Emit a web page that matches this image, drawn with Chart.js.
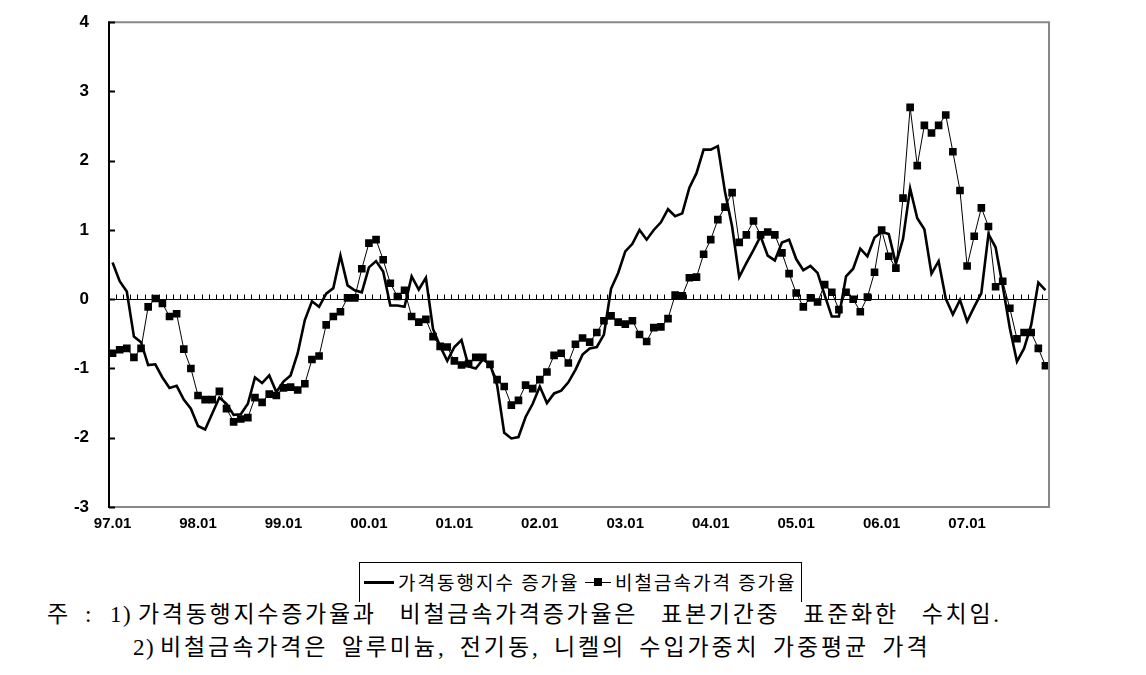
<!DOCTYPE html>
<html>
<head>
<meta charset="utf-8">
<script src="https://cdn.jsdelivr.net/npm/chart.js@4.4.1/dist/chart.umd.min.js"></script>
<style>
  html, body { margin: 0; padding: 0; background: #fff; }
  #wrap { position: relative; width: 1146px; height: 675px; overflow: hidden; }
  #box { position: absolute; left: 0; top: 0; width: 1146px; height: 540px; }
  #legend { position: absolute; left: 359px; top: 562px; width: 443px; height: 40px;
            border: 1px solid #000; border-bottom: none; box-sizing: border-box; }
  .lg { position: absolute; font-family: "Noto Sans CJK KR", sans-serif; font-size: 19px;
        letter-spacing: 2px; line-height: 22px; top: 8px; color: #000; white-space: nowrap; }
  .note { position: absolute; font-family: "Liberation Serif", "Noto Sans CJK KR", serif;
          font-size: 23px; line-height: 28px; letter-spacing: 1.5px; color: #000; white-space: nowrap; }
</style>
</head>
<body>
<div id="wrap">
  <div id="box"><canvas id="chart"></canvas></div>
  <div id="legend">
    <span style="position:absolute;left:4px;top:18px;width:30px;height:3px;background:#000"></span>
    <span class="lg" style="left:38px">가격동행지수 증가율</span>
    <span style="position:absolute;left:225px;top:19px;width:26px;height:1px;background:#000"></span>
    <span style="position:absolute;left:234px;top:15px;width:8px;height:8px;background:#000"></span>
    <span class="lg" style="left:255px">비철금속가격 증가율</span>
  </div>
  <div class="note" style="left:47px;top:601px">주</div>
  <div class="note" style="left:85px;top:601px">:</div>
  <div class="note" style="left:110px;top:601px">1)</div>
  <div class="note" style="left:138px;top:601px;letter-spacing:2.7px;word-spacing:14.5px">가격동행지수증가율과 비철금속가격증가율은 표본기간중 표준화한 수치임.</div>
  <div class="note" style="left:133px;top:634px">2)</div>
  <div class="note" style="left:160px;top:634px;letter-spacing:2.9px;word-spacing:4.6px">비철금속가격은 알루미늄, 전기동, 니켈의 수입가중치 가중평균 가격</div>
</div>
<script>
// monthly categories 97.01 ~ 07.12
const years = ['97', '98', '99', '00', '01', '02', '03', '04', '05', '06', '07']
const months = ['01', '02', '03', '04', '05', '06', '07', '08', '09', '10', '11', '12']
const categories = years.flatMap(y => months.map(m => y + '.' + m))
const tickLabels = ['97.01', '98.01', '99.01', '00.01', '01.01', '02.01', '03.01', '04.01', '05.01', '06.01', '07.01']
const yTicks = [4, 3, 2, 1, 0, -1, -2, -3]

// 가격동행지수 증가율 (solid line)
const coincidentGrowth = [
    0.53, 0.26, 0.11, -0.54, -0.62, -0.95, -0.94, -1.13, -1.28, -1.25, -1.45, -1.58,
    -1.83, -1.88, -1.65, -1.42, -1.51, -1.67, -1.66, -1.51, -1.13, -1.21, -1.10, -1.34,
    -1.19, -1.10, -0.78, -0.30, -0.03, -0.11, 0.08, 0.16, 0.63, 0.20, 0.13, 0.10,
    0.46, 0.55, 0.40, -0.09, -0.09, -0.11, 0.33, 0.14, 0.31, -0.43, -0.68, -0.89,
    -0.69, -0.59, -0.97, -1.00, -0.87, -0.94, -1.24, -1.93, -2.01, -1.99, -1.70, -1.51,
    -1.26, -1.50, -1.36, -1.32, -1.20, -1.02, -0.80, -0.71, -0.69, -0.51, 0.15, 0.38,
    0.69, 0.80, 1.00, 0.86, 1.00, 1.11, 1.30, 1.20, 1.24, 1.61, 1.82, 2.16,
    2.16, 2.21, 1.55, 1.05, 0.32, 0.52, 0.71, 0.91, 0.63, 0.56, 0.82, 0.86,
    0.58, 0.42, 0.48, 0.38, 0.06, -0.25, -0.25, 0.33, 0.44, 0.73, 0.62, 0.89,
    0.97, 0.94, 0.51, 0.87, 1.60, 1.17, 1.01, 0.37, 0.55, 0.01, -0.22, -0.01,
    -0.32, -0.11, 0.09, 0.94, 0.75, 0.19, -0.42, -0.90, -0.71, -0.37, 0.24, 0.13
]

// 비철금속가격 증가율 (line with squares)
const metalGrowth = [
    -0.78, -0.73, -0.71, -0.84, -0.71, -0.11, 0.01, -0.06, -0.25, -0.21, -0.72, -1.00,
    -1.39, -1.45, -1.45, -1.33, -1.58, -1.77, -1.73, -1.71, -1.42, -1.49, -1.37, -1.39,
    -1.28, -1.27, -1.31, -1.22, -0.87, -0.82, -0.37, -0.25, -0.18, 0.02, 0.02, 0.44,
    0.81, 0.86, 0.57, 0.23, 0.04, 0.13, -0.25, -0.33, -0.29, -0.54, -0.68, -0.69,
    -0.89, -0.95, -0.93, -0.84, -0.84, -0.94, -1.16, -1.26, -1.53, -1.46, -1.24, -1.29,
    -1.16, -1.05, -0.81, -0.78, -0.92, -0.65, -0.56, -0.62, -0.48, -0.31, -0.24, -0.33,
    -0.36, -0.31, -0.51, -0.61, -0.41, -0.40, -0.28, 0.06, 0.05, 0.31, 0.32, 0.65,
    0.86, 1.15, 1.33, 1.54, 0.82, 0.93, 1.13, 0.93, 0.97, 0.93, 0.67, 0.37,
    0.09, -0.11, 0.02, -0.04, 0.21, 0.10, -0.15, 0.10, 0.00, -0.18, 0.03, 0.39,
    1.00, 0.62, 0.45, 1.46, 2.77, 1.93, 2.51, 2.40, 2.51, 2.66, 2.13, 1.57,
    0.48, 0.91, 1.32, 1.05, 0.18, 0.26, -0.13, -0.57, -0.48, -0.48, -0.71, -0.96
]

// frame, inside ticks on the y axis and the comb-like zero line
const axisMarks = {
    id: 'axisMarks',
    beforeDatasetsDraw(chart) {
        const { ctx, chartArea: a, scales: { x, y } } = chart
        const y0 = Math.round(y.getPixelForValue(0)) + 0.5
        ctx.save()
        ctx.strokeStyle = '#000'
        ctx.lineWidth = 1
        ctx.beginPath()
        ctx.moveTo(a.left, y0)
        ctx.lineTo(a.right, y0)
        for (let k = 1; k < categories.length; k++) {
            const xb = Math.round((x.getPixelForValue(k - 1) + x.getPixelForValue(k)) / 2) + 0.5
            ctx.moveTo(xb, y0)
            ctx.lineTo(xb, y0 - 5)
        }
        ctx.stroke()
        ctx.restore()
    },
    afterDraw(chart) {
        const { ctx, chartArea: a, scales: { y } } = chart
        ctx.save()
        ctx.strokeStyle = '#888'
        ctx.lineWidth = 2
        ctx.beginPath()
        ctx.moveTo(a.left, a.top)
        ctx.lineTo(a.right, a.top)
        ctx.lineTo(a.right, a.bottom)
        ctx.lineTo(a.left, a.bottom)
        ctx.stroke()
        ctx.strokeStyle = '#000'
        ctx.beginPath()
        ctx.moveTo(a.left, a.top - 1)
        ctx.lineTo(a.left, a.bottom + 1)
        yTicks.forEach(v => {
            const yy = Math.round(y.getPixelForValue(v)) + 0.5
            ctx.moveTo(a.left, yy)
            ctx.lineTo(a.left + 6, yy)
        })
        ctx.stroke()
        ctx.restore()
    }
}

new Chart(document.getElementById('chart'), {
    type: 'line',
    data: {
        labels: categories,
        datasets: [{
            label: '가격동행지수 증가율',
            data: coincidentGrowth,
            borderColor: '#000',
            borderWidth: 2.6,
            pointRadius: 0,
            tension: 0,
            order: 2
        }, {
            label: '비철금속가격 증가율',
            data: metalGrowth,
            borderColor: '#000',
            borderWidth: 1,
            pointStyle: 'rect',
            pointRadius: 5.4,
            pointBackgroundColor: '#000',
            pointBorderWidth: 0,
            tension: 0,
            order: 1
        }]
    },
    options: {
        responsive: true,
        maintainAspectRatio: false,
        animation: false,
        layout: { padding: { left: 0, right: 97, top: 20, bottom: 0 } },
        plugins: {
            legend: { display: false },
            tooltip: { enabled: false }
        },
        scales: {
            x: {
                offset: true,
                grid: { display: false },
                border: { display: false },
                afterFit: scale => { scale.height = 33 },
                ticks: {
                    autoSkip: false,
                    maxRotation: 0,
                    padding: 0,
                    color: '#000',
                    font: { family: 'Liberation Sans', size: 15, weight: 'bold' },
                    callback: (v, i) => tickLabels.includes(categories[i]) ? categories[i] : ''
                }
            },
            y: {
                min: -3,
                max: 4,
                grid: { display: false },
                border: { display: false },
                afterFit: scale => { scale.width = 109 },
                ticks: {
                    stepSize: 1,
                    padding: 12,
                    color: '#000',
                    font: { family: 'Liberation Sans', size: 17, weight: 'bold' }
                }
            }
        }
    },
    plugins: [axisMarks]
})
</script>
</body>
</html>
